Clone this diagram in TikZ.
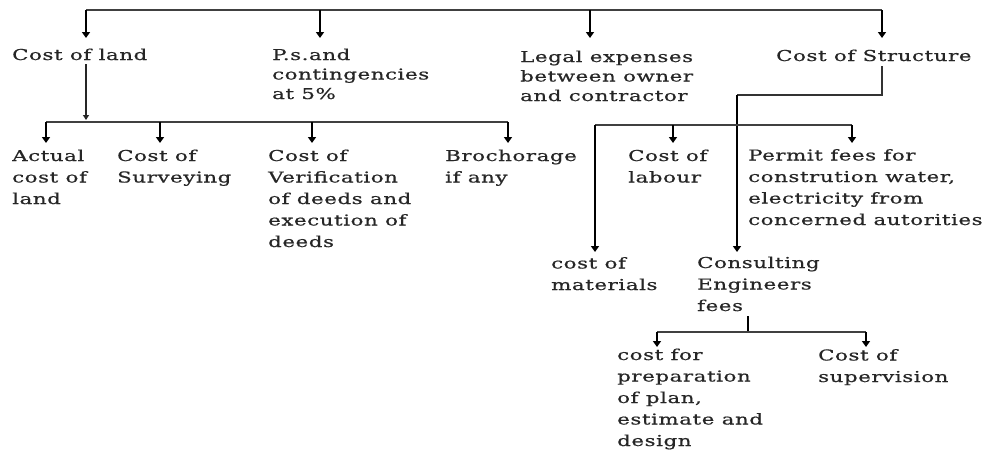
\documentclass[tikz,border=0pt]{standalone}
\usepackage{fontspec}
\setmainfont{DejaVu Serif}[FakeStretch=1.42,LetterSpace=4,FakeBold=0.6]
\usetikzlibrary{arrows.meta}
\begin{document}
\begin{tikzpicture}[x=1pt,y=-1pt,
  lbl/.style={anchor=base west,inner sep=0pt,align=left,font=\fontsize{15}{21.5}\selectfont,text=black!85},
  lbltop/.style={lbl,font=\fontsize{15}{19.5}\selectfont},
  bar/.style={line width=1.6pt,draw=black!75},
  thinline/.style={line width=1.3pt,draw=black!85,-{Triangle[length=5pt,width=6pt]}},
  arr/.style={line width=2.4pt,draw=black,-{Triangle[length=6pt,width=8pt]}},
  thickline/.style={line width=2.4pt,draw=black},
]
\useasboundingbox[fill=white] (0,0) rectangle (983,456);

% level 1 (anchor = baseline of the last line)
\node[lbltop] (land) at (12,60) {Cost of land};
\node[lbltop] (ps) at (272,99) {P.s.and\\contingencies\\at 5\%};
\node[lbltop] (legal) at (520,101) {Legal expenses\\between owner\\and contractor};
\node[lbltop] (struct) at (776,61) {Cost of Structure};

% level 2
\node[lbl] (actual) at (12,204) {Actual\\cost of\\land};
\node[lbl] (surv) at (117,182.5) {Cost of\\Surveying};
\node[lbl] (verif) at (268,247) {Cost of\\Verification\\of deeds and\\execution of\\deeds};
\node[lbl] (broch) at (445,182.5) {Brochorage\\if any};

% level 3
\node[lbl] (labour) at (628,182.5) {Cost of\\labour};
\node[lbl] (permit) at (748,225) {Permit fees for\\constrution water,\\electricity from\\concerned autorities};
\node[lbl] (mat) at (551,290) {cost of\\materials};
\node[lbl] (cons) at (697,311) {Consulting\\Engineers\\fees};

% level 4
\node[lbl] (prep) at (617,446) {cost for\\preparation\\of plan,\\estimate and\\design};
\node[lbl] (sup) at (818,382) {Cost of\\supervision};

% top bar
\coordinate (t1) at (86,10);
\coordinate (t2) at (320,10);
\coordinate (t3) at (590,10);
\coordinate (t4) at (882,10);
\draw[bar] (t1) -- (t4);
\draw[arr] (t1) -- (t1 |- 0,38);
\draw[arr] (t2) -- (t2 |- 0,38);
\draw[arr] (t3) -- (t3 |- 0,38);
\draw[arr] (t4) -- (t4 |- 0,38);

% cost of land branch
\coordinate (l0) at (86,64);
\coordinate (b1) at (46,122);
\coordinate (b2) at (160,122);
\coordinate (b3) at (312,122);
\coordinate (b4) at (508,122);
\draw[thinline] (l0) -- (86,120);
\draw[bar] (b1) -- (b4);
\draw[arr] (b1) -- (b1 |- 0,143);
\draw[arr] (b2) -- (b2 |- 0,143);
\draw[arr] (b3) -- (b3 |- 0,143);
\draw[arr] (b4) -- (b4 |- 0,143);

% cost of structure branch
\coordinate (s0) at (882,66);
\coordinate (s1) at (882,95);
\coordinate (s2) at (737,95);
\draw[line width=1.4pt,draw=black!80] (s0) -- (s1) -- (s2);
\draw[arr] (s2) -- (s2 |- 0,252);
\coordinate (c1) at (595,125);
\coordinate (c2) at (673,125);
\coordinate (c3) at (852,125);
\draw[bar] (c1) -- (c3);
\draw[arr] (c1) -- (c1 |- 0,252);
\draw[arr] (c2) -- (c2 |- 0,143);
\draw[arr] (c3) -- (c3 |- 0,143);

% consulting branch
\coordinate (e0) at (748,316);
\coordinate (e1) at (748,332);
\coordinate (d1) at (657,332);
\coordinate (d2) at (866,332);
\draw[thickline] (e0) -- (e1);
\draw[bar] (d1) -- (d2);
\draw[arr] (d1) -- (d1 |- 0,347);
\draw[arr] (d2) -- (d2 |- 0,347);
\end{tikzpicture}
\end{document}
